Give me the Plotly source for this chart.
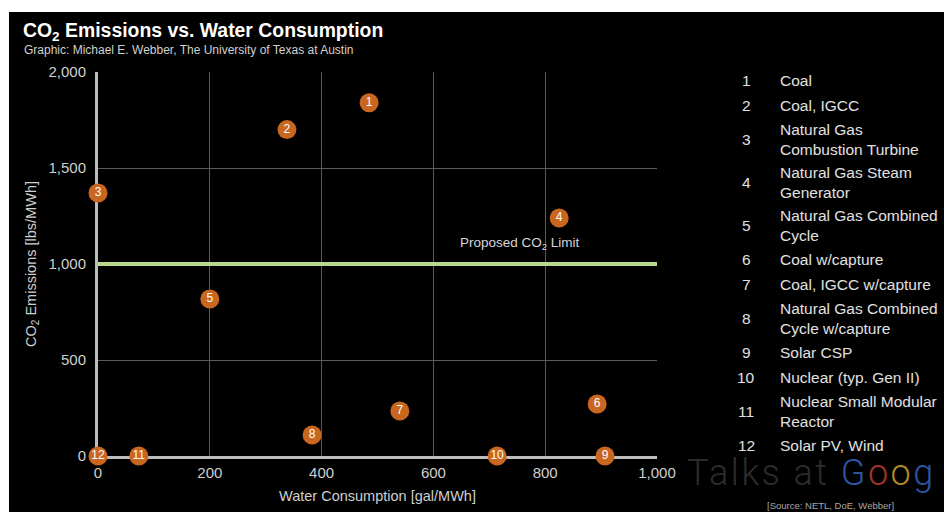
import plotly.graph_objects as go

# Power generation technologies: water use vs CO2 emissions
tech_ids = ["1", "2", "3", "4", "5", "6", "7", "8", "9", "10", "11", "12"]
tech_names = [
    "Coal",
    "Coal, IGCC",
    "Natural Gas<br>Combustion Turbine",
    "Natural Gas Steam<br>Generator",
    "Natural Gas Combined<br>Cycle",
    "Coal w/capture",
    "Coal, IGCC w/capture",
    "Natural Gas Combined<br>Cycle w/capture",
    "Solar CSP",
    "Nuclear (typ. Gen II)",
    "Nuclear Small Modular<br>Reactor",
    "Solar PV, Wind",
]
water_gal_mwh = [485, 338, 0, 825, 200, 893, 540, 383, 907, 714, 73, 0]
co2_lbs_mwh = [1840, 1700, 1370, 1240, 818, 271, 234, 109, 0, 0, 0, 0]

co2_limit = 1000
x_ticks = [0, 200, 400, 600, 800, 1000]
y_ticks = [0, 500, 1000, 1500, 2000]

W, H = 944, 512
ML, MR, MT, MB = 98, 287, 72, 56
PW, PH = W - ML - MR, H - MT - MB


def px_x(px):
    return (px - ML) / PW


def px_y(py):
    return (H - MB - py) / PH


FONT = "Liberation Sans"
TICK_COLOR = "#cfcfcf"
ORANGE = "#c9661f"

fig = go.Figure()

# proposed limit line
fig.add_trace(go.Scatter(
    x=[x_ticks[0], x_ticks[-1]], y=[co2_limit, co2_limit],
    mode="lines", line=dict(color="#b7d78e", width=4),
    hoverinfo="skip", showlegend=False, cliponaxis=False,
))

# numbered technology markers
fig.add_trace(go.Scatter(
    x=water_gal_mwh, y=co2_lbs_mwh, text=tech_ids,
    mode="markers+text", textposition="middle center",
    marker=dict(size=19, color=ORANGE, line=dict(width=0)),
    textfont=dict(family="Liberation Sans Narrow, " + FONT, size=12, color="white"),
    customdata=tech_names,
    hovertemplate="%{customdata}<br>%{x} gal/MWh, %{y} lbs/MWh<extra></extra>",
    showlegend=False, cliponaxis=False,
))

annotations = []
shapes = []

annotations.append(dict(
    x=755, y=co2_limit, xref="x", yref="y", yshift=21,
    text="Proposed CO<sub>2</sub> Limit", showarrow=False,
    font=dict(family=FONT, size=13.5, color="#d6d6d6"),
))

# title block
annotations.append(dict(
    x=px_x(21), y=px_y(32), xref="paper", yref="paper",
    xanchor="left", yanchor="middle",
    text="<b>CO<sub>2</sub> Emissions vs. Water Consumption</b>", showarrow=False,
    font=dict(family=FONT, size=19.4, color="white"),
))
annotations.append(dict(
    x=px_x(22), y=px_y(50), xref="paper", yref="paper",
    xanchor="left", yanchor="middle",
    text="Graphic: Michael E. Webber, The University of Texas at Austin", showarrow=False,
    font=dict(family=FONT, size=12, color="#d0d0d0"),
))

# key table on the right
row_heights = [43 if "<br>" in n else 25 for n in tech_names]
top = 67.5
for tid, name, rh in zip(tech_ids, tech_names, row_heights):
    cy = top + rh / 2
    annotations.append(dict(
        x=px_x(746), y=px_y(cy), xref="paper", yref="paper",
        xanchor="center", yanchor="middle", text=tid, showarrow=False,
        font=dict(family=FONT, size=15.5, color="#e0e0e0"),
    ))
    annotations.append(dict(
        x=px_x(778), y=px_y(cy), xref="paper", yref="paper",
        xanchor="left", yanchor="middle", align="left", text=name, showarrow=False,
        font=dict(family=FONT, size=15.5, color="#e0e0e0"),
    ))
    top += rh

# watermark and source line
annotations.append(dict(
    x=px_x(685), y=px_y(473), xref="paper", yref="paper",
    xanchor="left", yanchor="middle", showarrow=False,
    text=("<span style='color:#2c2c2c;letter-spacing:2.5px'>Talks at </span>"
          "<span style='color:#2d56a0;letter-spacing:2.5px'>G</span>"
          "<span style='color:#a3352b;letter-spacing:2.5px'>o</span>"
          "<span style='color:#b08a27;letter-spacing:2.5px'>o</span>"
          "<span style='color:#2d56a0;letter-spacing:2.5px'>g</span>"),
    font=dict(family="Roboto", size=36, color="#2c2c2c", weight=300),
))
annotations.append(dict(
    x=px_x(830), y=px_y(505), xref="paper", yref="paper",
    xanchor="center", yanchor="middle", showarrow=False,
    text="[Source: NETL, DoE, Webber]",
    font=dict(family=FONT, size=9.5, color="#a8a8a8"),
))

# white border strips along the top and left edges
shapes.append(dict(type="rect", xref="paper", yref="paper", layer="above",
                   x0=px_x(0), x1=px_x(W), y0=px_y(12), y1=px_y(0),
                   fillcolor="white", line=dict(width=0)))
shapes.append(dict(type="rect", xref="paper", yref="paper", layer="above",
                   x0=px_x(0), x1=px_x(9), y0=px_y(H), y1=px_y(0),
                   fillcolor="white", line=dict(width=0)))

axis_common = dict(
    automargin=False,
    showgrid=True, gridcolor="#5a5a5a", gridwidth=1,
    zeroline=False, showline=True, linecolor="#bdbdbd", linewidth=3,
    layer="below traces",
    ticks="", tickfont=dict(family=FONT, size=15, color=TICK_COLOR),
    separatethousands=True, tickformat=",d",
)

fig.update_layout(
    width=W, height=H, autosize=False,
    margin=dict(l=ML, r=MR, t=MT, b=MB, pad=0, autoexpand=False),
    paper_bgcolor="black", plot_bgcolor="black",
    xaxis=dict(range=[x_ticks[0], x_ticks[-1]], tickvals=x_ticks, ticklabelstandoff=1,
               title=dict(text="Water Consumption [gal/MWh]", standoff=11,
                          font=dict(family=FONT, size=14.5, color=TICK_COLOR)),
               **axis_common),
    yaxis=dict(range=[y_ticks[0], y_ticks[-1]], tickvals=y_ticks, ticklabelstandoff=6,
               title=dict(text="CO<sub>2</sub> Emissions [lbs/MWh]", standoff=9,
                          font=dict(family=FONT, size=14.5, color=TICK_COLOR)),
               **axis_common),
    annotations=annotations, shapes=shapes,
    showlegend=False,
)

fig.write_html("out.html")
